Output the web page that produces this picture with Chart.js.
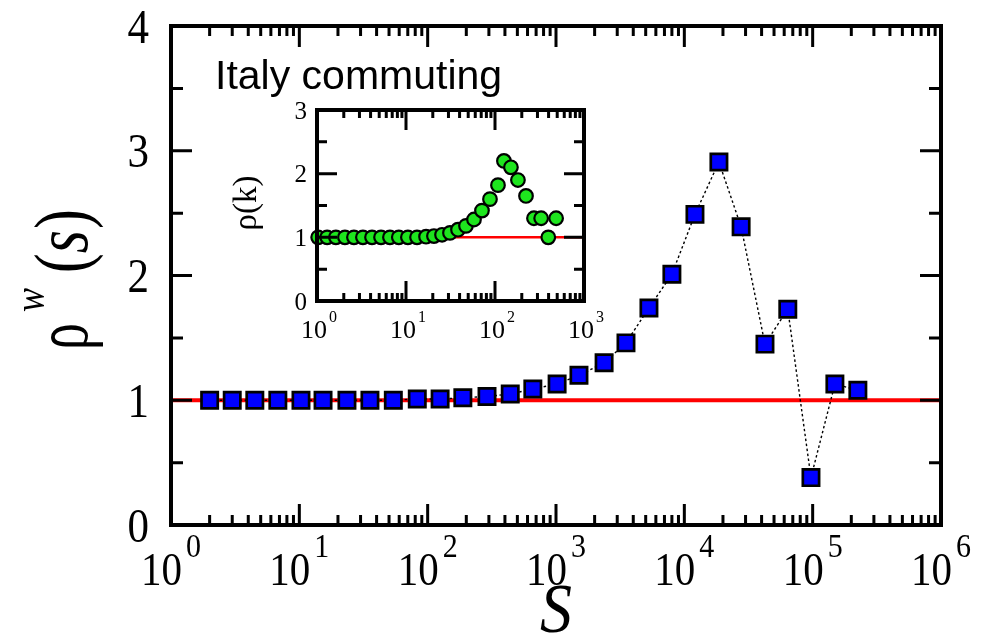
<!DOCTYPE html>
<html><head><meta charset="utf-8">
<script src="https://cdn.jsdelivr.net/npm/chart.js@4.4.1/dist/chart.umd.min.js"></script>
<style>
html,body{margin:0;padding:0;background:#fff;}
#wrap{position:relative;width:995px;height:637px;}
#wrap canvas{position:absolute;left:0;top:0;}
</style></head><body>
<div id="wrap"><canvas id="main" width="995" height="637"></canvas><canvas id="inset" width="995" height="637"></canvas></div>
<script>
// Strength s and rho^w(s)
const strengthValues = [2, 3, 4.5, 6.8, 10.3, 15.3, 23.5, 35.5, 54, 83, 125, 188, 290, 440, 660, 1020, 1510, 2370, 3510, 5300, 8000, 12100, 18600, 27700, 42500, 64000, 97000, 149000, 225000];
const rhoStrength = [1, 1, 1, 1, 1, 1, 1, 1, 1, 1.01, 1.01, 1.02, 1.03, 1.05, 1.09, 1.13, 1.20, 1.30, 1.46, 1.74, 2.01, 2.49, 2.91, 2.39, 1.45, 1.73, 0.38, 1.13, 1.08];
// Degree k and rho(k) for the inset
const degreeValues = [1.03, 1.3, 1.63, 2.06, 2.6, 3.28, 4.15, 5.24, 6.6, 8.3, 10.5, 13.3, 16.8, 20.6, 25.4, 31.2, 38.4, 47.2, 58.1, 71.4, 87.8, 108, 126, 151, 181, 223, 274, 330, 397, 486];
const rhoDegree = [1, 1, 1, 1, 1, 1, 1, 1, 1, 1, 1, 1, 1.01, 1.02, 1.04, 1.07, 1.12, 1.18, 1.28, 1.42, 1.6, 1.82, 2.2, 2.1, 1.9, 1.65, 1.3, 1.3, 1.0, 1.3];
// Reference level rho = 1
const baseline = 1;
// Axis ticks
const mainYTicks = [0, 1, 2, 3, 4];
const mainDecades = [0, 1, 2, 3, 4, 5, 6];
const insetYTicks = [0, 1, 2, 3];
const insetDecades = [0, 1, 2, 3];
const titleText = 'Italy commuting';

const SERIF = '"Liberation Serif", "Times New Roman", serif';
const SANS = '"Liberation Sans", Arial, sans-serif';

function stretchedText(ctx, text, x, y, font, sy, align) {
  ctx.save();
  ctx.font = font;
  ctx.textAlign = align || 'left';
  ctx.textBaseline = 'alphabetic';
  ctx.translate(x, y);
  ctx.scale(1, sy);
  ctx.fillText(text, 0, 0);
  ctx.restore();
}

// Frame with inward ticks on all four sides, plus power-of-ten and linear labels
const framePlugin = {
  id: 'frame',
  afterDraw(chart, args, o) {
    const ctx = chart.ctx, a = chart.chartArea;
    const xs = chart.scales.x, ys = chart.scales.y;
    ctx.save();
    ctx.strokeStyle = '#000';
    ctx.fillStyle = '#000';
    ctx.lineWidth = o.tickWidth;
    ctx.lineCap = 'butt';
    const dec = o.decades;
    const xt = [];
    for (let i = 0; i < dec.length - 1; i++) {
      for (let m = 1; m < 10; m++) xt.push({ v: m * Math.pow(10, dec[i]), major: m === 1 });
    }
    xt.push({ v: Math.pow(10, dec[dec.length - 1]), major: true });
    ctx.beginPath();
    xt.forEach(t => {
      const px = xs.getPixelForValue(t.v);
      const len = t.major ? o.majorLen : o.minorLen;
      ctx.moveTo(px, a.bottom); ctx.lineTo(px, a.bottom - len);
      ctx.moveTo(px, a.top); ctx.lineTo(px, a.top + len);
    });
    const yt = o.yTicks;
    const yAll = [];
    yt.forEach((v, i) => {
      yAll.push({ v, major: true });
      if (i < yt.length - 1) yAll.push({ v: (v + yt[i + 1]) / 2, major: false });
    });
    yAll.forEach(t => {
      const py = ys.getPixelForValue(t.v);
      const len = t.major ? o.majorLen : o.yMinorLen;
      ctx.moveTo(a.left, py); ctx.lineTo(a.left + len, py);
      ctx.moveTo(a.right, py); ctx.lineTo(a.right - len, py);
    });
    ctx.stroke();
    ctx.lineWidth = o.frameWidth;
    ctx.strokeRect(a.left, a.top, a.right - a.left, a.bottom - a.top);

    // y labels
    yt.forEach(v => {
      const py = ys.getPixelForValue(v);
      stretchedText(ctx, String(v), o.yLabelRight, py + o.yLabelShift, o.yFont, o.sy, 'right');
    });
    // x labels 10^d
    dec.forEach(d => {
      const px = xs.getPixelForValue(Math.pow(10, d));
      ctx.font = o.xFont;
      const wb = ctx.measureText('10').width;
      ctx.font = o.supFont;
      const ws = ctx.measureText(String(d)).width;
      const total = wb + o.supGap + ws;
      const x0 = px - total / 2 + o.xLabelShift;
      stretchedText(ctx, '10', x0, o.xBase, o.xFont, o.sy, 'left');
      stretchedText(ctx, String(d), x0 + wb + o.supGap, o.supBase, o.supFont, o.sy, 'left');
    });
    if (o.extra) o.extra(ctx, a);
    ctx.restore();
  }
};

// one glyph run in the rotated frame, squeezed along the text direction
function rotGlyph(ctx, text, x, y, font, sx) {
  ctx.save();
  ctx.font = font;
  ctx.translate(x, y);
  ctx.scale(sx, 1);
  ctx.fillText(text, 0, 0);
  const w = ctx.measureText(text).width * sx;
  ctx.restore();
  return w;
}

function mainTitles(ctx, a) {
  // x title
  stretchedText(ctx, 'S', 556, 632, 'italic 64px ' + SERIF, 1.1, 'center');
  // y title: rho^w(s), rotated
  ctx.save();
  ctx.translate(87, 275);
  ctx.rotate(-Math.PI / 2);
  ctx.scale(1, 1.15);
  ctx.textBaseline = 'alphabetic';
  ctx.textAlign = 'left';
  rotGlyph(ctx, '\u03C1', -75, 0, '66px ' + SERIF, 0.82);
  rotGlyph(ctx, 'w', -37, -37, 'italic 38px ' + SERIF, 0.95);
  let x = 2;
  x += rotGlyph(ctx, '(', x, 0, '66px ' + SERIF, 0.9);
  x += rotGlyph(ctx, 's', x, 0, 'italic 66px ' + SERIF, 0.9) + 1;
  rotGlyph(ctx, ')', x, 0, '66px ' + SERIF, 0.9);
  ctx.restore();
  // panel title
  ctx.font = '41px ' + SANS;
  ctx.textAlign = 'left';
  ctx.fillText(titleText, 215, 89);
}

function insetTitles(ctx, a) {
  ctx.save();
  ctx.translate(256, 203);
  ctx.rotate(-Math.PI / 2);
  ctx.font = '33px ' + SERIF;
  ctx.textAlign = 'center';
  ctx.textBaseline = 'alphabetic';
  ctx.fillText('\u03C1(k)', 0, 0);
  ctx.restore();
}

Chart.register(framePlugin);

new Chart(document.getElementById('main'), {
  type: 'scatter',
  data: {
    datasets: [
      {
        data: strengthValues.map((s, i) => ({ x: s, y: rhoStrength[i] })),
        showLine: true,
        borderColor: '#000',
        borderWidth: 1.4,
        borderDash: [2.5, 2.5],
        pointStyle: 'rect',
        pointRadius: 11.5,
        pointBackgroundColor: '#0000ff',
        pointBorderColor: '#000',
        pointBorderWidth: 2.7,
        clip: false
      },
      {
        data: [{ x: Math.pow(10, mainDecades[0]), y: baseline }, { x: Math.pow(10, mainDecades[mainDecades.length - 1]), y: baseline }],
        showLine: true,
        borderColor: '#ff0000',
        borderWidth: 4,
        pointRadius: 0
      }
    ]
  },
  options: {
    responsive: false,
    animation: false,
    devicePixelRatio: 1,
    layout: { padding: { left: 171, top: 26, right: 54, bottom: 112 } },
    scales: {
      x: { type: 'logarithmic', min: 1, max: 1e6, display: false },
      y: { type: 'linear', min: 0, max: 4, display: false }
    },
    plugins: {
      legend: { display: false },
      tooltip: { enabled: false },
      frame: {
        tickWidth: 3, frameWidth: 4, majorLen: 21, minorLen: 10, yMinorLen: 12,
        decades: mainDecades, yTicks: mainYTicks,
        yFont: '43px ' + SERIF, yLabelRight: 149, yLabelShift: 16.5, sy: 1.14,
        xFont: '41px ' + SERIF, supFont: '30px ' + SERIF, supGap: 4,
        xBase: 585, supBase: 557, xLabelShift: 0,
        extra: mainTitles
      }
    }
  }
});

new Chart(document.getElementById('inset'), {
  type: 'scatter',
  data: {
    datasets: [
      {
        data: degreeValues.map((k, i) => ({ x: k, y: rhoDegree[i] })),
        pointStyle: 'circle',
        pointRadius: 6.8,
        pointBackgroundColor: '#1ee51e',
        pointBorderColor: '#000',
        pointBorderWidth: 2.2,
        clip: false
      },
      {
        data: [{ x: 1, y: baseline }, { x: 1000, y: baseline }],
        showLine: true,
        borderColor: '#ff0000',
        borderWidth: 2.5,
        pointRadius: 0
      }
    ]
  },
  options: {
    responsive: false,
    animation: false,
    devicePixelRatio: 1,
    layout: { padding: { left: 317, top: 110, right: 411, bottom: 336 } },
    scales: {
      x: { type: 'logarithmic', min: 1, max: 1000, display: false },
      y: { type: 'linear', min: 0, max: 3, display: false }
    },
    plugins: {
      legend: { display: false },
      tooltip: { enabled: false },
      frame: {
        tickWidth: 3, frameWidth: 4, majorLen: 20, minorLen: 8, yMinorLen: 10,
        decades: insetDecades, yTicks: insetYTicks,
        yFont: '25px ' + SERIF, yLabelRight: 307, yLabelShift: 8.5, sy: 1.0,
        xFont: '26px ' + SERIF, supFont: '16px ' + SERIF, supGap: 2,
        xBase: 338, supBase: 322, xLabelShift: 2,
        extra: insetTitles
      }
    }
  }
});
</script>
</body></html>
